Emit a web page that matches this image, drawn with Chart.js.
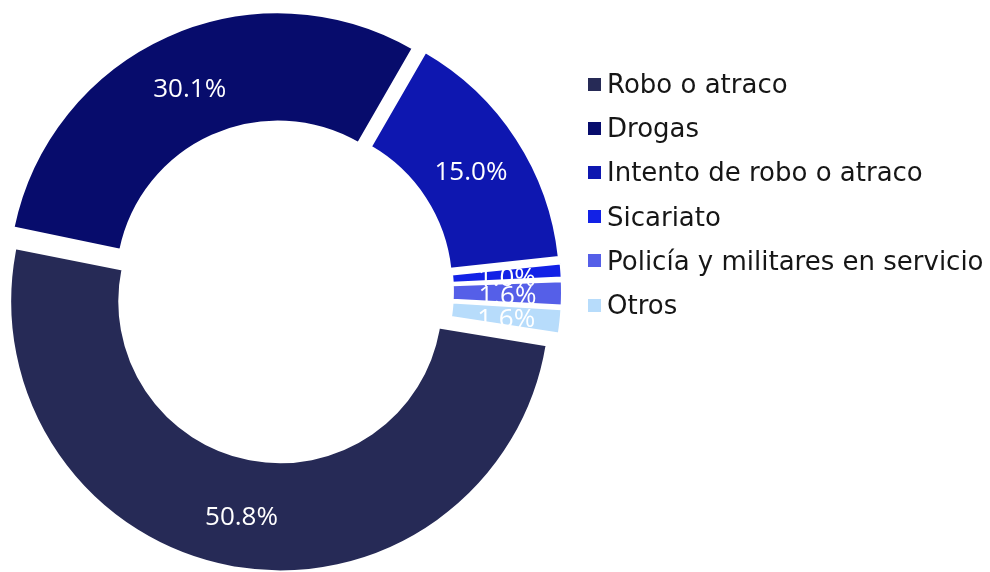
<!DOCTYPE html>
<html>
<head>
<meta charset="utf-8">
<title>Doughnut</title>
<script src="https://cdn.jsdelivr.net/npm/chart.js@4.4.1/dist/chart.umd.min.js"></script>
<style>
    html, body { margin: 0; padding: 0; background: #fff; }
    #wrap { position: relative; width: 990px; height: 572px; overflow: hidden; }
    #chart { position: absolute; left: 0; top: 0; }
    #legend {
        position: absolute; left: 588px; top: 62px;
        list-style: none; margin: 0; padding: 0;
        font-family: 'DejaVu Sans', sans-serif; font-size: 26px;
        color: #161616;
    }
    #legend li { height: 44.2px; display: flex; align-items: center; white-space: nowrap; }
    #legend .box { width: 13px; height: 13px; margin-right: 6px; flex: none; }
</style>
</head>
<body>
<div id="wrap">
    <canvas id="chart" width="990" height="572"></canvas>
    <ul id="legend"></ul>
</div>
<script>
const categories = ['Robo o atraco', 'Drogas', 'Intento de robo o atraco', 'Sicariato', 'Policía y militares en servicio', 'Otros']
const shares = [50.8, 30.1, 15.0, 1.0, 1.6, 1.6]
const colors = ['#262a56', '#070c6c', '#0e17b0', '#1221e6', '#555fe8', '#b7dcfb']

;(() => {
    const explode = 40 // chart.js moves a slice by offset / 4 px

    const legend = document.getElementById('legend')
    categories.forEach((name, i) => {
        legend.insertAdjacentHTML('beforeend',
            `<li><span class="box" style="background:${colors[i]}"></span>${name}</li>`)
    })

    // chart.js also grows the radius of an offset arc; undo that so the
    // slices are only pulled out, like an exploded excel doughnut
    const keepRadius = {
        id: 'keepRadius',
        beforeDatasetsDraw(chart) {
            const meta = chart.getDatasetMeta(0)
            const ctrl = meta.controller
            meta.data.forEach((arc) => {
                const grow = (explode / 4) * (1 - Math.sin(Math.min(Math.PI, arc.circumference)))
                arc.outerRadius = ctrl.outerRadius - grow
                arc.innerRadius = ctrl.innerRadius - grow
            })
        },
    }

    // white % labels in the middle of each slice
    const pctLabels = {
        id: 'pctLabels',
        afterDatasetsDraw(chart) {
            const ctx = chart.ctx
            const meta = chart.getDatasetMeta(0)
            const ctrl = meta.controller
            ctx.save()
            ctx.font = '26px "Open Sans"'
            ctx.fillStyle = '#fff'
            ctx.textAlign = 'center'
            ctx.textBaseline = 'middle'
            meta.data.forEach((arc, i) => {
                const mid = (arc.startAngle + arc.endAngle) / 2
                const r = (ctrl.innerRadius + ctrl.outerRadius) / 2 + explode / 4
                ctx.fillText(shares[i].toFixed(1) + '%', arc.x + Math.cos(mid) * r, arc.y + Math.sin(mid) * r + 4)
            })
            ctx.restore()
        },
    }

    new Chart(document.getElementById('chart'), {
        type: 'doughnut',
        data: {
            labels: categories,
            datasets: [
                {
                    data: shares,
                    backgroundColor: colors,
                    borderColor: '#fff',
                    borderWidth: 2,
                    offset: explode,
                    hoverOffset: 0,
                },
            ],
        },
        options: {
            responsive: false,
            animation: false,
            rotation: 99,
            radius: 270,
            cutout: '59.6%',
            layout: { padding: { left: 0, right: 426, top: 11, bottom: 0 } },
            plugins: {
                legend: { display: false },
                tooltip: { enabled: false },
            },
        },
        plugins: [keepRadius, pctLabels],
    })
})()
</script>
</body>
</html>
